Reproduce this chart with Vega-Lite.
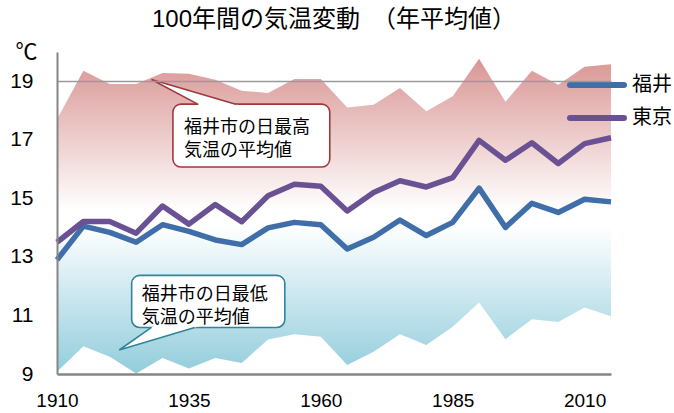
{
  "$schema": "https://vega.github.io/schema/vega-lite/v6.json",
  "width": 554,
  "height": 322,
  "autosize": {"type": "none"},
  "padding": {"left": 57, "top": 52, "right": 63, "bottom": 39},
  "background": "white",
  "config": {"view": {"stroke": null}, "font": "Liberation Sans, Noto Sans CJK JP"},
  "title": {
    "text": "100年間の気温変動　（年平均値）",
    "fontSize": 24,
    "fontWeight": "normal",
    "font": "Liberation Sans, Noto Sans CJK JP",
    "color": "black",
    "anchor": "middle",
    "frame": "group",
    "offset": 8
  },
  "datasets": {
    "annual": [
      {"year": 1910, "max": 17.7, "min": 9.08},
      {"year": 1915, "max": 19.36, "min": 9.95},
      {"year": 1920, "max": 18.91, "min": 9.59},
      {"year": 1925, "max": 18.91, "min": 9.02},
      {"year": 1930, "max": 19.28, "min": 9.55},
      {"year": 1935, "max": 19.26, "min": 9.19},
      {"year": 1940, "max": 19.05, "min": 9.55},
      {"year": 1945, "max": 18.68, "min": 9.38},
      {"year": 1950, "max": 18.6, "min": 10.18},
      {"year": 1955, "max": 19.08, "min": 10.36},
      {"year": 1960, "max": 19.08, "min": 10.27},
      {"year": 1965, "max": 18.1, "min": 9.31},
      {"year": 1970, "max": 18.2, "min": 9.76},
      {"year": 1975, "max": 18.77, "min": 10.36},
      {"year": 1980, "max": 17.98, "min": 9.99},
      {"year": 1985, "max": 18.49, "min": 10.61},
      {"year": 1990, "max": 19.77, "min": 11.44},
      {"year": 1995, "max": 18.3, "min": 10.19},
      {"year": 2000, "max": 19.36, "min": 10.87},
      {"year": 2005, "max": 18.88, "min": 10.78},
      {"year": 2010, "max": 19.5, "min": 11.27},
      {"year": 2015, "max": 19.58, "min": 10.97}
    ],
    "means": [
      {"year": 1910, "city": "福井", "temp": 12.9},
      {"year": 1915, "city": "福井", "temp": 14.05},
      {"year": 1920, "city": "福井", "temp": 13.84},
      {"year": 1925, "city": "福井", "temp": 13.5},
      {"year": 1930, "city": "福井", "temp": 14.1},
      {"year": 1935, "city": "福井", "temp": 13.87},
      {"year": 1940, "city": "福井", "temp": 13.58},
      {"year": 1945, "city": "福井", "temp": 13.42},
      {"year": 1950, "city": "福井", "temp": 13.99},
      {"year": 1955, "city": "福井", "temp": 14.18},
      {"year": 1960, "city": "福井", "temp": 14.1},
      {"year": 1965, "city": "福井", "temp": 13.27},
      {"year": 1970, "city": "福井", "temp": 13.67},
      {"year": 1975, "city": "福井", "temp": 14.26},
      {"year": 1980, "city": "福井", "temp": 13.73},
      {"year": 1985, "city": "福井", "temp": 14.18},
      {"year": 1990, "city": "福井", "temp": 15.35},
      {"year": 1995, "city": "福井", "temp": 14.01},
      {"year": 2000, "city": "福井", "temp": 14.83},
      {"year": 2005, "city": "福井", "temp": 14.52},
      {"year": 2010, "city": "福井", "temp": 14.97},
      {"year": 2015, "city": "福井", "temp": 14.88},
      {"year": 1910, "city": "東京", "temp": 13.5},
      {"year": 1915, "city": "東京", "temp": 14.21},
      {"year": 1920, "city": "東京", "temp": 14.21},
      {"year": 1925, "city": "東京", "temp": 13.81},
      {"year": 1930, "city": "東京", "temp": 14.74},
      {"year": 1935, "city": "東京", "temp": 14.12},
      {"year": 1940, "city": "東京", "temp": 14.79},
      {"year": 1945, "city": "東京", "temp": 14.2},
      {"year": 1950, "city": "東京", "temp": 15.09},
      {"year": 1955, "city": "東京", "temp": 15.48},
      {"year": 1960, "city": "東京", "temp": 15.41},
      {"year": 1965, "city": "東京", "temp": 14.57},
      {"year": 1970, "city": "東京", "temp": 15.2},
      {"year": 1975, "city": "東京", "temp": 15.6},
      {"year": 1980, "city": "東京", "temp": 15.39},
      {"year": 1985, "city": "東京", "temp": 15.71},
      {"year": 1990, "city": "東京", "temp": 16.98},
      {"year": 1995, "city": "東京", "temp": 16.3},
      {"year": 2000, "city": "東京", "temp": 16.9},
      {"year": 2005, "city": "東京", "temp": 16.19},
      {"year": 2010, "city": "東京", "temp": 16.87},
      {"year": 2015, "city": "東京", "temp": 17.07}
    ]
  },
  "layer": [
    {
      "data": {"name": "annual"},
      "mark": {
        "type": "area",
        "fill": {
          "gradient": "linear",
          "x1": 0, "y1": 0, "x2": 0, "y2": 1,
          "stops": [
            {"offset": 0, "color": "#D99694"},
            {"offset": 0.48, "color": "#ffffff"},
            {"offset": 0.53, "color": "#ffffff"},
            {"offset": 1, "color": "#92CDDC"}
          ]
        }
      },
      "encoding": {
        "x": {
          "field": "year", "type": "quantitative",
          "scale": {"domain": [1910, 2015], "nice": false, "zero": false},
          "axis": {
            "values": [1910, 1935, 1960, 1985, 2010],
            "format": "d",
            "title": null,
            "grid": false,
            "ticks": false,
            "tickSize": 0,
            "domainColor": "#868686",
            "domainWidth": 2.5,
            "labelFontSize": 19,
            "labelFont": "Liberation Sans",
            "labelColor": "black",
            "labelPadding": 17,
            "labelFlush": false,
            "zindex": 1
          }
        },
        "y": {
          "field": "max", "type": "quantitative",
          "scale": {"domain": [9, 20], "nice": false, "zero": false},
          "axis": {
            "values": [9, 11, 13, 15, 17, 19],
            "title": "℃",
            "titleAngle": 0,
            "titleX": -42,
            "titleY": 6,
            "titleAlign": "left",
            "titleBaseline": "alphabetic",
            "titleFontSize": 22,
            "titleFontWeight": "normal",
            "titleFont": "Noto Sans CJK JP",
            "titleColor": "black",
            "grid": true,
            "gridColor": "#9a9a9a",
            "gridWidth": 1.5,
            "gridOpacity": {"condition": {"test": "datum.value === 19", "value": 1}, "value": 0},
            "ticks": false,
            "tickSize": 0,
            "domainColor": "#868686",
            "domainWidth": 2,
            "labelFontSize": 21,
            "labelFont": "Liberation Sans",
            "labelColor": "black",
            "labelPadding": 24,
            "labelFlush": false,
            "zindex": 1
          }
        },
        "y2": {"field": "min"}
      }
    },
    {
      "data": {"name": "means"},
      "mark": {"type": "line", "strokeWidth": 5.5, "strokeJoin": "round"},
      "encoding": {
        "x": {"field": "year", "type": "quantitative", "scale": {"domain": [1910, 2015], "nice": false, "zero": false}},
        "y": {"field": "temp", "type": "quantitative", "scale": {"domain": [9, 20], "nice": false, "zero": false}},
        "color": {
          "field": "city", "type": "nominal",
          "scale": {"domain": ["福井", "東京"], "range": ["#3f6ea8", "#6a5193"]},
          "legend": {
            "orient": "none",
            "legendX": 528,
            "legendY": 21,
            "title": null,
            "padding": 0,
            "symbolType": "M-3,0H3",
            "symbolSize": 324,
            "symbolStrokeWidth": 6,
            "labelFontSize": 20,
            "labelFont": "Noto Sans CJK JP",
            "labelColor": "black",
            "labelOffset": 23,
            "rowPadding": 9,
            "encode": {"symbols": {"update": {"strokeCap": {"value": "round"}}}}
          }
        }
      }
    },
    {
      "data": {"values": [{"x1": 1931.97, "x2": 1961.7, "y1": 18.22, "y2": 16.07}]},
      "mark": {"type": "rect", "fill": "white", "stroke": "#a0393c", "strokeWidth": 1.6, "cornerRadius": 8},
      "encoding": {
        "x": {"field": "x1", "type": "quantitative", "scale": {"domain": [1910, 2015], "nice": false, "zero": false}},
        "x2": {"field": "x2"},
        "y": {"field": "y1", "type": "quantitative", "scale": {"domain": [9, 20], "nice": false, "zero": false}},
        "y2": {"field": "y2"}
      }
    },
    {
      "data": {"values": [
        {"year": 1927.9, "hi": 19.06, "lo": 19.06},
        {"year": 1937.46, "hi": 18.56, "lo": 18.14},
        {"year": 1945.32, "hi": 18.14, "lo": 18.14}
      ]},
      "mark": {"type": "area", "fill": "white", "strokeWidth": 0},
      "encoding": {
        "x": {"field": "year", "type": "quantitative", "scale": {"domain": [1910, 2015], "nice": false, "zero": false}},
        "y": {"field": "hi", "type": "quantitative", "scale": {"domain": [9, 20], "nice": false, "zero": false}},
        "y2": {"field": "lo"}
      }
    },
    {
      "data": {"values": [
        {"o": 1, "year": 1936.76, "temp": 18.21},
        {"o": 2, "year": 1927.9, "temp": 19.06},
        {"o": 3, "year": 1944.03, "temp": 18.21}
      ]},
      "mark": {"type": "line", "stroke": "#a0393c", "strokeWidth": 1.6, "strokeJoin": "miter"},
      "encoding": {
        "x": {"field": "year", "type": "quantitative", "scale": {"domain": [1910, 2015], "nice": false, "zero": false}},
        "y": {"field": "temp", "type": "quantitative", "scale": {"domain": [9, 20], "nice": false, "zero": false}},
        "order": {"field": "o"}
      }
    },
    {
      "data": {"values": [{"year": 1934.05, "temp": 17.39, "label": "福井市の日最高\n気温の平均値"}]},
      "mark": {"type": "text", "align": "left", "baseline": "middle", "fontSize": 18, "lineHeight": 23, "lineBreak": "\n", "font": "Noto Sans CJK JP", "color": "black"},
      "encoding": {
        "x": {"field": "year", "type": "quantitative", "scale": {"domain": [1910, 2015], "nice": false, "zero": false}},
        "y": {"field": "temp", "type": "quantitative", "scale": {"domain": [9, 20], "nice": false, "zero": false}},
        "text": {"field": "label"}
      }
    },
    {
      "data": {"values": [{"x1": 1924.15, "x2": 1953.18, "y1": 12.37, "y2": 10.59}]},
      "mark": {"type": "rect", "fill": "white", "stroke": "#31849b", "strokeWidth": 1.6, "cornerRadius": 8},
      "encoding": {
        "x": {"field": "x1", "type": "quantitative", "scale": {"domain": [1910, 2015], "nice": false, "zero": false}},
        "x2": {"field": "x2"},
        "y": {"field": "y1", "type": "quantitative", "scale": {"domain": [9, 20], "nice": false, "zero": false}},
        "y2": {"field": "y2"}
      }
    },
    {
      "data": {"values": [
        {"year": 1921.8, "hi": 9.82, "lo": 9.82},
        {"year": 1928.56, "hi": 10.667, "lo": 10.18},
        {"year": 1937.6, "hi": 10.667, "lo": 10.667}
      ]},
      "mark": {"type": "area", "fill": "white", "strokeWidth": 0},
      "encoding": {
        "x": {"field": "year", "type": "quantitative", "scale": {"domain": [1910, 2015], "nice": false, "zero": false}},
        "y": {"field": "hi", "type": "quantitative", "scale": {"domain": [9, 20], "nice": false, "zero": false}},
        "y2": {"field": "lo"}
      }
    },
    {
      "data": {"values": [
        {"o": 1, "year": 1927.9, "temp": 10.59},
        {"o": 2, "year": 1921.8, "temp": 9.82},
        {"o": 3, "year": 1936.1, "temp": 10.59}
      ]},
      "mark": {"type": "line", "stroke": "#31849b", "strokeWidth": 1.6, "strokeJoin": "miter"},
      "encoding": {
        "x": {"field": "year", "type": "quantitative", "scale": {"domain": [1910, 2015], "nice": false, "zero": false}},
        "y": {"field": "temp", "type": "quantitative", "scale": {"domain": [9, 20], "nice": false, "zero": false}},
        "order": {"field": "o"}
      }
    },
    {
      "data": {"values": [{"year": 1926.04, "temp": 11.69, "label": "福井市の日最低\n気温の平均値"}]},
      "mark": {"type": "text", "align": "left", "baseline": "middle", "fontSize": 18, "lineHeight": 23, "lineBreak": "\n", "font": "Noto Sans CJK JP", "color": "black"},
      "encoding": {
        "x": {"field": "year", "type": "quantitative", "scale": {"domain": [1910, 2015], "nice": false, "zero": false}},
        "y": {"field": "temp", "type": "quantitative", "scale": {"domain": [9, 20], "nice": false, "zero": false}},
        "text": {"field": "label"}
      }
    }
  ]
}
